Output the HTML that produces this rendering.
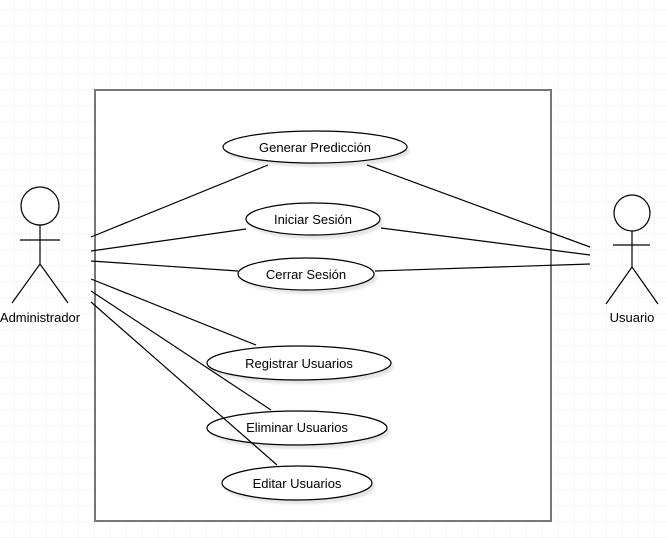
<!DOCTYPE html>
<html><head><style>
html,body{margin:0;padding:0;background:#fff;}
svg{display:block;}
text{font-family:"Liberation Sans",Arial,sans-serif;font-size:13px;fill:#000;}
</style></head><body>
<svg width="667" height="538" viewBox="0 0 667 538" xmlns="http://www.w3.org/2000/svg">
<defs>
<pattern id="g" x="-1" y="10" width="16" height="16" patternUnits="userSpaceOnUse">
<path d="M16 0V16M0 16H16" stroke="#ececec" stroke-width="1" fill="none"/>
</pattern>
<filter id="sh" x="-20%" y="-30%" width="150%" height="180%"><feOffset dx="3" dy="4"/><feGaussianBlur stdDeviation="1"/></filter>
</defs>
<rect width="667" height="538" fill="url(#g)"/>
<rect x="95" y="90" width="456" height="431" fill="#fff" stroke="#777" stroke-width="2"/>
<g fill="#e4e4e4" filter="url(#sh)">
<ellipse cx="315" cy="147" rx="92" ry="16"/>
<ellipse cx="313" cy="219" rx="67" ry="16"/>
<ellipse cx="306" cy="274" rx="68" ry="16"/>
<ellipse cx="299" cy="363" rx="92" ry="17"/>
<ellipse cx="297" cy="428" rx="90" ry="17"/>
<ellipse cx="297" cy="483" rx="75" ry="17"/>
</g>
<g fill="#fff" stroke="#000" stroke-width="1.2">
<ellipse cx="315" cy="147" rx="92" ry="16"/>
<ellipse cx="313" cy="219" rx="67" ry="16"/>
<ellipse cx="306" cy="274" rx="68" ry="16"/>
<ellipse cx="299" cy="363" rx="92" ry="17"/>
<ellipse cx="297" cy="428" rx="90" ry="17"/>
<ellipse cx="297" cy="483" rx="75" ry="17"/>
</g>
<g stroke="#000" stroke-width="1.2" fill="none">
<line x1="91" y1="237" x2="268" y2="165"/>
<line x1="91" y1="251" x2="246" y2="229"/>
<line x1="91" y1="261" x2="238" y2="271"/>
<line x1="91" y1="279" x2="256" y2="345"/>
<line x1="91" y1="291" x2="271" y2="410"/>
<line x1="91" y1="302" x2="277" y2="465"/>
<line x1="590" y1="247" x2="367" y2="165"/>
<line x1="590" y1="255" x2="381" y2="228"/>
<line x1="590" y1="264" x2="375" y2="271"/>
<circle cx="40" cy="206" r="19" fill="#fff"/>
<path d="M40 225V264M20 240H60M12 303L40 264L68 303"/>
<circle cx="632" cy="213" r="18" fill="#fff"/>
<path d="M632 231V267M613 245H650M606 304L632 267L658 304"/>
</g>
<g text-anchor="middle">
<text x="315" y="152">Generar Predicción</text>
<text x="313" y="224">Iniciar Sesión</text>
<text x="306" y="279">Cerrar Sesión</text>
<text x="299" y="368">Registrar Usuarios</text>
<text x="297" y="432">Eliminar Usuarios</text>
<text x="297" y="488">Editar Usuarios</text>
<text x="40" y="322">Administrador</text>
<text x="632" y="322">Usuario</text>
</g>
</svg>
</body></html>
